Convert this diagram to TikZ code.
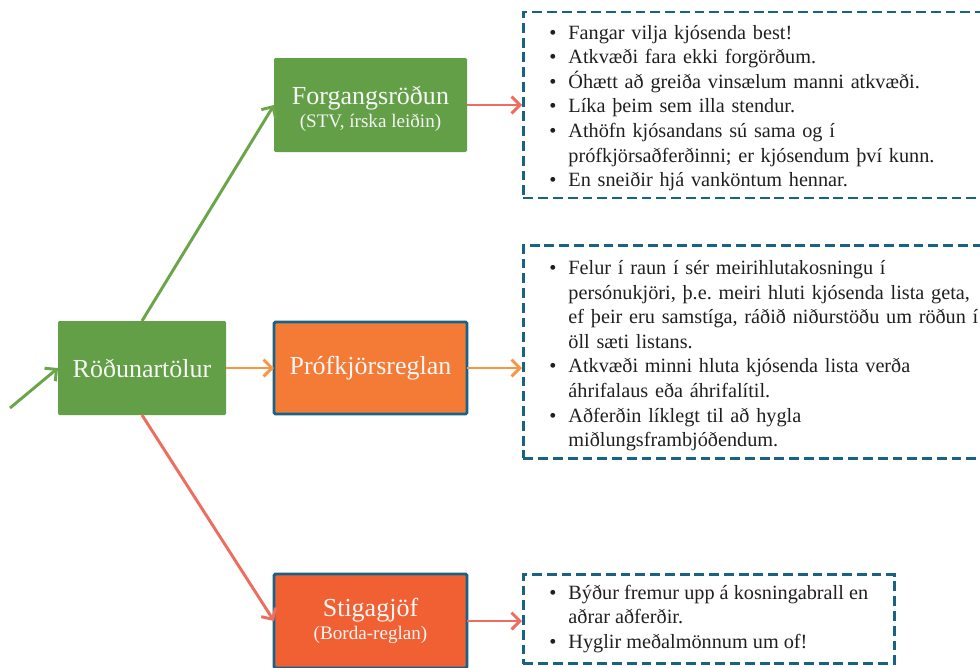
\documentclass[tikz,border=0pt]{standalone}
\usepackage{fontspec}
\setmainfont{Liberation Serif}
\usepackage{tikz}
\usetikzlibrary{positioning,arrows.meta}
\frenchspacing

\definecolor{boxgreen}{RGB}{99,159,71}
\definecolor{arrgreen}{RGB}{107,165,74}
\definecolor{boxorange}{RGB}{243,123,54}
\definecolor{arrorange}{RGB}{248,150,70}
\definecolor{boxred}{RGB}{241,96,51}
\definecolor{arrred}{RGB}{237,110,95}
\definecolor{frameblue}{RGB}{24,98,134}
\definecolor{lighttext}{RGB}{246,246,246}

\newcommand{\bul}{\makebox[0.475cm][l]{\textbullet}}
\newcommand{\cont}{\hspace*{0.475cm}}

\tikzstyle{method} = [rectangle, rounded corners=1pt, inner sep=0pt, outer sep=0pt, text=lighttext, align=center,
	minimum width=4.825cm, minimum height=2.35cm, font=\fontsize{18.5}{16.3}\selectfont]
\tikzstyle{greenbox} = [method, fill=boxgreen]
\tikzstyle{framedbox} = [method, draw=frameblue]
\tikzstyle{listbox} = [rectangle, draw=frameblue, dash pattern=on 7pt off 3.5pt, align=left,
	inner xsep=0.65cm, inner ysep=0pt, text=black!88, font=\fontsize{14.4}{17.5}\selectfont]

\begin{document}
\begin{tikzpicture}[->, >={Straight Barb[length=6pt,width=12pt]}, line width=2.1pt]
		\useasboundingbox (0,0) rectangle (24.5,-16.675);
		% Nodes
		\node[greenbox, minimum width=4.2cm] (R) at (3.55,-9.2) {Röðunartölur};
		\node[framedbox, fill=boxorange, minimum height=2.3cm] (P) [right=1.2cm of R] {Prófkjörsreglan};
		\node[greenbox] (F) [above=4.25cm of P] {\rule{0pt}{0.66cm}Forgangsröðun\\{\fontsize{13.6}{16.6}\selectfont (STV, írska leiðin)}};
		\node[framedbox, fill=boxred] (S) [below=4.0cm of P] {Stigagjöf\\{\fontsize{13.6}{16.3}\selectfont (Borda-reglan)}};
		\coordinate (in) at (0.25,-10.2);
		% Lists
		\node[listbox, text width=11cm, minimum height=4.65cm] (T1) [right=1.375cm of F] {%
			\rule{0pt}{0.5cm}\bul Fangar vilja kjósenda best!\\
			\bul Atkvæði fara ekki forgörðum.\\
			\bul Óhætt að greiða vinsælum manni atkvæði.\\
			\bul Líka þeim sem illa stendur.\\
			\bul Athöfn kjósandans sú sama og í\\
			\cont prófkjörsaðferðinni; er kjósendum því kunn.\\
			\bul En sneiðir hjá vanköntum hennar.};
		\node[listbox, text width=11cm, minimum height=5.325cm] (T2) [right=1.375cm of P, yshift=0.41cm] {%
			\rule{0pt}{0.56cm}\bul Felur í raun í sér meirihlutakosningu í\\
			\cont persónukjöri, þ.e. meiri hluti kjósenda lista geta,\\
			\cont ef þeir eru samstíga, ráðið niðurstöðu um röðun í\\
			\cont öll sæti listans.\\
			\bul Atkvæði minni hluta kjósenda lista verða\\
			\cont áhrifalaus eða áhrifalítil.\\
			\bul Aðferðin líklegt til að hygla\\
			\cont miðlungsframbjóðendum.};
		\node[listbox, minimum height=2.225cm] (T3) [right=1.375cm of S, yshift=0.05cm] {%
			\bul Býður fremur upp á kosningabrall en\\
			\cont aðrar aðferðir.\\
			\bul Hyglir meðalmönnum um of!};
		%Arrows
		\path
		(in) edge [arrgreen] (R.west)
		(R.north) edge [arrgreen] (F.west)
		(R.east) edge [arrorange] (P.west)
		(R.south) edge [arrred] (S.west)
		(F) edge [arrred] (T1)
		(P.east) edge [arrorange] (P.east -| T2.west)
		(S.east) edge [arrred] (S.east -| T3.west)
		;
	\end{tikzpicture}
\end{document}
